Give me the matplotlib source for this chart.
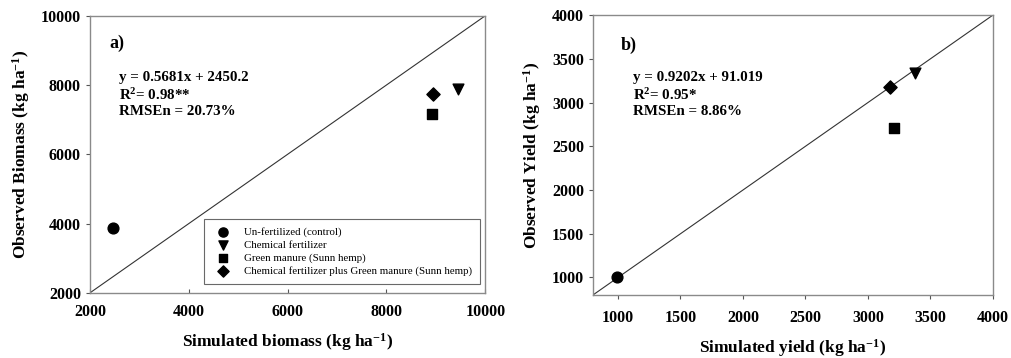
import matplotlib
matplotlib.use("Agg")
import matplotlib.pyplot as plt

plt.rcParams['font.family'] = ['Liberation Serif', 'DejaVu Serif']
plt.rcParams['mathtext.fontset'] = 'custom'
plt.rcParams['mathtext.bf'] = 'Liberation Serif:bold'
plt.rcParams['mathtext.rm'] = 'Liberation Serif:bold'
plt.rcParams['mathtext.default'] = 'bf'
plt.rcParams['axes.unicode_minus'] = False

treatments = ["Un-fertilized (control)", "Chemical fertilizer",
              "Green manure (Sunn hemp)",
              "Chemical fertilizer plus Green manure (Sunn hemp)"]
markers = ["o", "v", "s", "D"]

# panel a: biomass
sim_biomass = [2470, 9450, 8920, 8950]
obs_biomass = [3865, 7895, 7160, 7750]
# panel b: yield
sim_yield = [990, 3375, 3205, 3180]
obs_yield = [1000, 3335, 2712, 3182]

ticks_a = [2000, 4000, 6000, 8000, 10000]
ticks_b = [1000, 1500, 2000, 2500, 3000, 3500, 4000]

fig = plt.figure(figsize=(10.11, 3.58), dpi=100)
ax1 = fig.add_axes([0.089, 0.182, 0.391, 0.774])
ax2 = fig.add_axes([0.5865, 0.176, 0.3957, 0.782])

sizes = {"o": 60, "v": 60, "s": 50, "D": 45}

for ax, xs, ys, lo, hi in [(ax1, sim_biomass, obs_biomass, 2000, 10000),
                          (ax2, sim_yield, obs_yield, 800, 4000)]:
    ax.plot([lo, hi], [lo, hi], color="#333333", lw=0.8, zorder=1)
    for x, y, m, lab in zip(xs, ys, markers, treatments):
        ax.scatter(x, y, marker=m, s=sizes[m], color="black", label=lab, zorder=3)
    ax.set_xlim(lo, hi)
    ax.set_ylim(lo, hi)
    for s in ax.spines.values():
        s.set_color("#8a8a8a")
        s.set_linewidth(1.0)
    ax.tick_params(labelsize=11.5, color="#555555", length=3)

ax1.set_xticks(ticks_a)
ax1.set_yticks(ticks_a)
ax1.tick_params(axis="x", direction="in", pad=8)
ax1.tick_params(axis="y", direction="out")
ax2.set_xticks(ticks_b)
ax2.set_yticks(ticks_b)
ax2.tick_params(axis="x", direction="out", pad=8)
ax2.tick_params(axis="y", direction="out")
for ax in (ax1, ax2):
    for t in ax.get_xticklabels() + ax.get_yticklabels():
        t.set_fontweight("bold")

ax1.set_xlabel("Simulated biomass (kg ha$^{-1}$)", fontsize=12.5, fontweight="bold", labelpad=8)
ax1.set_ylabel("Observed Biomass (kg ha$^{-1}$)", fontsize=12.5, fontweight="bold", labelpad=6)
ax2.set_xlabel("Simulated yield (kg ha$^{-1}$)", fontsize=12.5, fontweight="bold", labelpad=8)
ax2.set_ylabel("Observed Yield (kg ha$^{-1}$)", fontsize=12.5, fontweight="bold", labelpad=6)

ax1.text(0.05, 0.90, "a)", transform=ax1.transAxes, fontsize=13, fontweight="bold", va="center")
ax1.text(0.073, 0.80, "y = 0.5681x + 2450.2\nR$^{2}$= 0.98**\nRMSEn = 20.73%",
         transform=ax1.transAxes, fontsize=10.8, fontweight="bold", va="top", linespacing=1.2)
ax2.text(0.07, 0.89, "b)", transform=ax2.transAxes, fontsize=13, fontweight="bold", va="center")
ax2.text(0.1, 0.80, "y = 0.9202x + 91.019\nR$^{2}$= 0.95*\nRMSEn = 8.86%",
         transform=ax2.transAxes, fontsize=10.8, fontweight="bold", va="top", linespacing=1.2)

leg = ax1.legend(loc="lower right", fontsize=7.8, frameon=True, fancybox=False,
                 edgecolor="#444444", handletextpad=0.9, borderpad=0.75,
                 labelspacing=0.3, bbox_to_anchor=(0.995, 0.02), markerscale=0.85,
                 borderaxespad=0.3)
leg.get_frame().set_linewidth(0.8)

fig.savefig("out.png", dpi=100)
